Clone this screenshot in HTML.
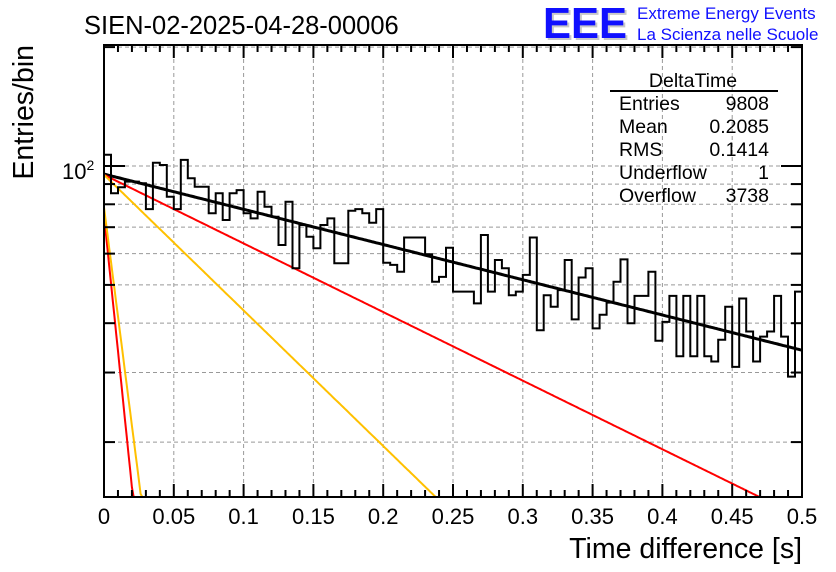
<!DOCTYPE html>
<html><head><meta charset="utf-8"><style>
html,body{margin:0;padding:0;background:#fff;}
svg{display:block;font-family:"Liberation Sans",sans-serif;}
</style></head><body>
<svg id="chart" width="836" height="572" viewBox="0 0 836 572" xmlns="http://www.w3.org/2000/svg">
<rect width="836" height="572" fill="#fff"/>
<text x="84" y="34" font-size="25.5">SIEN-02-2025-04-28-00006</text>
<g>
<text x="545" y="40" font-size="44" font-weight="bold" fill="#c8c8c8" textLength="84" lengthAdjust="spacingAndGlyphs">EEE</text>
<text x="543" y="38" font-size="44" font-weight="bold" fill="#1010ff" textLength="84" lengthAdjust="spacingAndGlyphs">EEE</text>
<text x="637" y="19" font-size="17" fill="#1010ff">Extreme Energy Events</text>
<text x="637" y="40" font-size="17" fill="#1010ff">La Scienza nelle Scuole</text>
</g>
<g id="grid"></g>
<g id="curves"></g>
<g id="hist"></g>
<g id="axes"></g>
<g font-size="19.5">
<text x="693" y="87" text-anchor="middle">DeltaTime</text>
<line x1="610" y1="91" x2="778" y2="91" stroke="#000" stroke-width="2"/>
<text x="619" y="110">Entries</text><text x="769" y="110" text-anchor="end">9808</text>
<text x="619" y="133">Mean</text><text x="769" y="133" text-anchor="end">0.2085</text>
<text x="619" y="156">RMS</text><text x="769" y="156" text-anchor="end">0.1414</text>
<text x="619" y="179">Underflow</text><text x="769" y="179" text-anchor="end">1</text>
<text x="619" y="202">Overflow</text><text x="769" y="202" text-anchor="end">3738</text>
</g>
<text x="802" y="558" font-size="28.5" text-anchor="end">Time difference [s]</text>
<text transform="translate(33,45) rotate(-90)" font-size="28.5" text-anchor="end">Entries/bin</text>
<text x="62" y="179" font-size="22">10<tspan font-size="14" dy="-9">2</tspan></text>
</svg>
<script>
const counts = [106.8,85.3,88.3,91.3,91.3,90.4,77.8,101.9,100.6,83.6,77.8,103.6,93.1,88.6,88.6,75.9,85.3,73.0,85.3,86.9,
75.9,73.7,86.1,78.9,74.4,63.1,81.2,55.1,70.9,66.2,61.9,70.9,73.7,56.7,56.7,77.0,77.8,75.9,71.8,77.8,
56.9,56.2,54.0,65.9,65.9,65.9,59.8,50.9,52.4,62.1,48.1,48.1,48.1,44.9,66.9,48.1,57.8,55.1,47.1,48.1,
53.0,65.9,38.4,47.1,44.0,48.5,57.8,40.9,52.2,55.1,38.8,42.0,45.1,50.9,58.0,40.0,46.9,46.9,54.0,36.1,
40.3,46.9,33.0,46.9,33.0,46.9,33.0,32.0,36.3,44.0,31.0,46.2,38.1,32.0,37.0,38.1,46.9,37.0,29.3,48.1];
const xTicks = [0,0.05,0.1,0.15,0.2,0.25,0.3,0.35,0.4,0.45,0.5];
const xTickLabels = ["0","0.05","0.1","0.15","0.2","0.25","0.3","0.35","0.4","0.45","0.5"];
const yTicks = [20,30,40,50,60,70,80,90,100,200];
const fitAmp = [95.4,95,95,75.2,78.7];
const fitTau = [0.487,0.25,0.1265,0.0126,0.0157];
const fitColor = ["#000","#ff0000","#ffc000","#ff0000","#ffc000"];
const binWidth = 0.005;

const X0=104,X1=802,Y0=45,Y1=497;
const xs = v => X0 + (X1-X0)*v/0.5;
const ys = v => 166 - 395*Math.log10(v/100);
const NS="http://www.w3.org/2000/svg";
function mk(tag, parent, attrs){const e=document.createElementNS(NS,tag);for(const k in attrs)e.setAttribute(k,attrs[k]);parent.appendChild(e);return e;}
const clampY = y => Math.max(Y0, Math.min(Y1, y));

const grid=document.getElementById('grid');
xTicks.forEach((t,i)=>{ if(i>0&&i<xTicks.length-1){
 const l=mk('line',grid,{x1:xs(t),x2:xs(t),y1:Y0,y2:Y1,stroke:'#999','stroke-dasharray':'4,3','stroke-width':1});
 
 }});
yTicks.forEach(t=>{ const y=ys(t); if(y>Y0&&y<Y1){
 const l=mk('line',grid,{x1:X0,x2:X1,y1:y,y2:y,stroke:'#999','stroke-dasharray':'4,3','stroke-width':1});
 
 }});

const cg=document.getElementById('curves');
fitAmp.forEach((A,i)=>{
 let pts=[];
 for(let k=0;k<=400;k++){const t=0.5*k/400;const v=A*Math.exp(-t/fitTau[i]);const y=ys(v);
  if(y>Y1){pts.push(xs(t)+','+Y1);break;} pts.push(xs(t).toFixed(1)+','+y.toFixed(1));}
 const p=mk('polyline',cg,{points:pts.join(' '),fill:'none',stroke:fitColor[i],'stroke-width':i===0?3:2});
 
 
});

const hg=document.getElementById('hist');
let d='M'+xs(0)+','+Y1;
counts.forEach((c,i)=>{const y=clampY(ys(c));d+=' L'+xs(i*binWidth).toFixed(1)+','+y.toFixed(1)+' L'+xs((i+1)*binWidth).toFixed(1)+','+y.toFixed(1);});
d+=' L'+xs(counts.length*binWidth)+','+Y1;
const hp=mk('path',hg,{d:d,fill:'none',stroke:'#000','stroke-width':2});



const ax=document.getElementById('axes');
const fr=mk('rect',ax,{x:X0,y:Y0,width:X1-X0,height:Y1-Y0,fill:'none',stroke:'#000','stroke-width':2});


for(let k=0;k<=50;k++){const t=k*0.01;const x=xs(t);const len=(k%5===0)?13:7;
 mk('line',ax,{x1:x,x2:x,y1:Y1,y2:Y1-len,stroke:'#000','stroke-width':2});
 mk('line',ax,{x1:x,x2:x,y1:Y0,y2:Y0+len,stroke:'#000','stroke-width':2});}
xTicks.forEach((t,i)=>{const tx=mk('text',ax,{x:xs(t),y:524,'font-size':22,'text-anchor':'middle'});tx.textContent=xTickLabels[i];
 
 });
yTicks.forEach(t=>{const y=ys(t); if(y<Y0-1||y>Y1) return; const len=(t===100)?21:11;
 mk('line',ax,{x1:X0,x2:X0+len,y1:y,y2:y,stroke:'#000','stroke-width':2});
 mk('line',ax,{x1:X1,x2:X1-len,y1:y,y2:y,stroke:'#000','stroke-width':2});});
</script>
</body></html>
